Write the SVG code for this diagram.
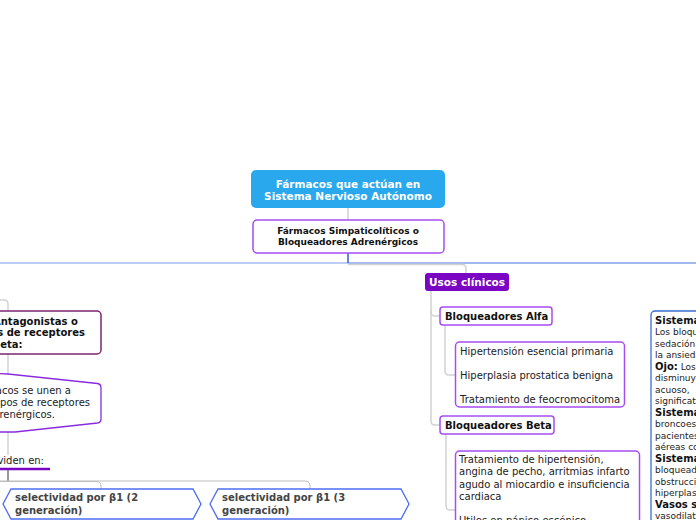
<svg xmlns="http://www.w3.org/2000/svg" width="696" height="520" viewBox="0 0 696 520">
<style>
text{font-family:"DejaVu Sans","Verdana",sans-serif;}
.b{font-weight:bold;}
.w{fill:#ffffff;}
.k{fill:#111111;}
.g{fill:#444444;}
.n{font-size:10px;fill:#222222;}
.c{fill:none;stroke:#d2d2d2;stroke-width:1.5;}
.node{fill:#ffffff;stroke:#a64ef2;stroke-width:1.5;}
.hex{fill:#ffffff;stroke:#4d6cf2;stroke-width:1.3;}
</style>
<rect width="696" height="520" fill="#ffffff"/>
<g id="connectors">
  <path class="c" d="M348,208 V220"/>
  <path d="M0,263 H348" stroke="#7a9ded" stroke-width="1.2" fill="none"/>
  <path d="M348,263 H696" stroke="#4474e2" stroke-width="1.2" fill="none"/>
  <path d="M348,253 V263" stroke="#2f5fd8" stroke-width="1.5" fill="none"/>
  <path class="c" d="M348,264.5 H462 Q466,264.5 466,268.5 V274"/>
  <path class="c" d="M431,290 V312 Q431,316 435,316 H441"/>
  <path class="c" d="M431,310 V421 Q431,425 435,425 H441"/>
  <path class="c" d="M445,325 V371 Q445,375 449,375 H456"/>
  <path class="c" d="M446,434 V506 Q446,510 450,510 H456"/>
  <path class="c" d="M-10,300 H4 Q8,300 8,304 V312"/>
  <path class="c" d="M8,354 V375"/>
  <path class="c" d="M8,432 V455"/>
  <path d="M-5,469 H50" stroke="#7a05c2" stroke-width="2.5" fill="none"/>
  <path d="M8,470 V481" stroke="#555555" stroke-width="1.2" fill="none"/>
  <path d="M-5,481.5 H96 Q101,481.5 101,486 V489" stroke="#bdbdbd" stroke-width="1" fill="none"/>
  <path d="M-5,481 H305 Q310,481 310,486 V489" stroke="#bdbdbd" stroke-width="1" fill="none"/>
</g>
<g id="root">
  <rect x="251" y="170" width="194" height="38" rx="5" fill="#2aa8ee"/>
  <text class="b w" x="348" y="188" font-size="10.5" text-anchor="middle">Fármacos que actúan en</text>
  <text class="b w" x="348" y="200" font-size="10.5" text-anchor="middle">Sistema Nervioso Autónomo</text>
</g>
<g id="simpaticoliticos">
  <rect class="node" x="253" y="220" width="191" height="33" rx="4"/>
  <text class="b k" x="348" y="234" font-size="9" text-anchor="middle">Fármacos Simpaticolíticos o</text>
  <text class="b k" x="348" y="245" font-size="9" text-anchor="middle">Bloqueadores Adrenérgicos</text>
</g>
<g id="usos">
  <rect x="425" y="273" width="84" height="18" rx="3" fill="#7a05c2"/>
  <text class="b w" x="429" y="286" font-size="10.5">Usos clínicos</text>
</g>
<g id="alfa">
  <rect class="node" x="440" y="307" width="112" height="18" rx="3"/>
  <text class="b k" x="445" y="320" font-size="10">Bloqueadores Alfa</text>
</g>
<g id="alfa-usos">
  <rect class="node" x="455.5" y="342" width="169" height="65" rx="4"/>
  <text class="n" x="460" y="354.5">Hipertensión esencial primaria</text>
  <text class="n" x="460" y="378.5">Hiperplasia prostatica benigna</text>
  <text class="n" x="460" y="402.5">Tratamiento de feocromocitoma</text>
</g>
<g id="beta">
  <rect class="node" x="440" y="416" width="114" height="18" rx="3"/>
  <text class="b k" x="445" y="429" font-size="10">Bloqueadores Beta</text>
</g>
<g id="beta-usos">
  <rect class="node" x="455.5" y="451" width="184" height="90" rx="4"/>
  <text class="n" x="459" y="462.5">Tratamiento de hipertensión,</text>
  <text class="n" x="459" y="475">angina de pecho, arritmias infarto</text>
  <text class="n" x="459" y="487.5">agudo al miocardio e insuficiencia</text>
  <text class="n" x="459" y="500">cardiaca</text>
  <text class="n" x="459" y="524">Utiles en pánico escénico</text>
</g>
<g id="efectos">
  <rect x="651" y="311" width="80" height="240" rx="4" fill="#ffffff" stroke="#3a6fd2" stroke-width="1.3"/>
  <g font-size="9" fill="#222222">
    <text x="655" y="324" class="b" font-size="10" fill="#111111">Sistema Nervioso Central:</text>
    <text x="655" y="335">Los bloqueadores β producen</text>
    <text x="655" y="346.5">sedación y disminuyen</text>
    <text x="655" y="358">la ansiedad.</text>
    <text x="655" y="369.5"><tspan class="b" font-size="10" fill="#111111">Ojo:</tspan> Los bloqueadores β</text>
    <text x="655" y="381">disminuyen la producción de humor</text>
    <text x="655" y="392.5">acuoso,</text>
    <text x="655" y="404">significativamente la PIO.</text>
    <text x="655" y="415.5" class="b" font-size="10" fill="#111111">Sistema Respiratorio:</text>
    <text x="655" y="427">broncoespasmo en</text>
    <text x="655" y="438.5">pacientes con vías</text>
    <text x="655" y="450">aéreas comprometidas.</text>
    <text x="655" y="461.5" class="b" font-size="10" fill="#111111">Sistema Genitourinario:</text>
    <text x="655" y="473">bloqueadores α alivian la</text>
    <text x="655" y="484.5">obstrucción urinaria por</text>
    <text x="655" y="496">hiperplasia prostática.</text>
    <text x="655" y="507.5" class="b" font-size="10" fill="#111111">Vasos sanguíneos:</text>
    <text x="655" y="519">vasodilatación periférica.</text>
  </g>
</g>
<g id="antagonistas">
  <rect x="-20" y="311" width="121" height="43" rx="4" fill="#ffffff" stroke="#7d2672" stroke-width="1.5"/>
  <text class="b k" x="-7" y="324.5" font-size="10">Antagonistas o</text>
  <text class="b k" x="85" y="336" font-size="10" text-anchor="end">bloqueadores de receptores</text>
  <text class="b k" x="-7" y="347.5" font-size="10">beta:</text>
</g>
<g id="definicion">
  <path d="M-20,373 L8,374 L97.5,383.5 Q101,384 101,388 L101,419 Q101,422.5 97.5,423 L15,432 L-20,432 Z" fill="#ffffff" stroke="#8a2be2" stroke-width="1.3"/>
  <text class="n" x="71" y="393.5" text-anchor="end">Fármacos se unen a</text>
  <text class="n" x="90" y="406" text-anchor="end">tipos de receptores</text>
  <text class="n" x="55" y="418" text-anchor="end">adrenérgicos.</text>
</g>
<g id="dividen">
  <text class="n" x="44" y="463.5" text-anchor="end">Se dividen en:</text>
</g>
<g id="beta2">
  <path class="hex" d="M3,504 L11,489 H193 L201,504 L193,519 H11 Z"/>
  <text class="b g" x="15" y="500.5" font-size="10">selectividad por β1 (2</text>
  <text class="b g" x="15" y="513.5" font-size="10">generación)</text>
</g>
<g id="beta3">
  <path class="hex" d="M210,504 L218,489 H401 L409,504 L401,519 H218 Z"/>
  <text class="b g" x="222" y="500.5" font-size="10">selectividad por β1 (3</text>
  <text class="b g" x="222" y="513.5" font-size="10">generación)</text>
</g>
</svg>
